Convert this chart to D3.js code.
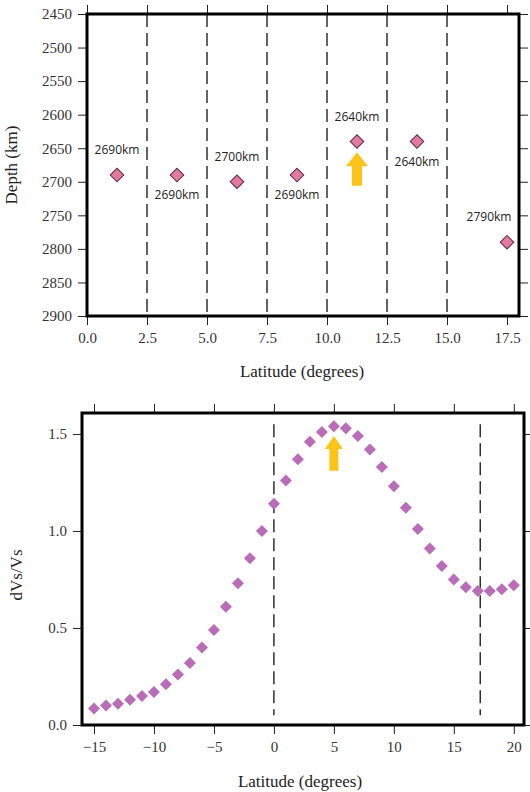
<!DOCTYPE html>
<html>
<head>
<meta charset="utf-8">
<script src="https://cdn.jsdelivr.net/npm/d3@7"></script>
<style>
  html, body { margin: 0; padding: 0; background: #fff; }
  svg { display: block; }
</style>
</head>
<body>
<svg id="canvas" width="530" height="792"></svg>
<script>
// ---- data: top panel (depth of peak per latitude bin)
const binLat = [1.25, 3.75, 6.25, 8.75, 11.25, 13.75, 17.5];
const binDepth = [2690, 2690, 2700, 2690, 2640, 2640, 2790];
const binLabel = ['2690km', '2690km', '2700km', '2690km', '2640km', '2640km', '2790km'];
const binLabelAbove = [true, false, true, false, true, false, true];
const binEdges = [2.5, 5.0, 7.5, 10.0, 12.5, 15.0];
const depthTicks = [2450, 2500, 2550, 2600, 2650, 2700, 2750, 2800, 2850, 2900];
const topLatTicks = [0, 2.5, 5, 7.5, 10, 12.5, 15, 17.5];

// ---- data: bottom panel (dVs/Vs vs latitude)
const profLat = [-15,-14,-13,-12,-11,-10,-9,-8,-7,-6,-5,-4,-3,-2,-1,0,1,2,3,4,5,6,7,8,9,10,11,12,13,14,15,16,17,18,19,20];
const profDvs = [0.085,0.10,0.11,0.13,0.15,0.17,0.21,0.26,0.32,0.40,0.49,0.61,0.73,0.86,1.00,1.14,1.26,1.37,1.46,1.51,1.54,1.53,1.49,1.42,1.33,1.23,1.12,1.01,0.91,0.82,0.75,0.71,0.69,0.69,0.70,0.72];
const profEdges = [0, 17.2];
const dvsTicks = [0, 0.5, 1.0, 1.5];
const botLatTicks = [-15, -10, -5, 0, 5, 10, 15, 20];

// arrows marking the peak
const topArrow = {lat: 11.25, from: 2706, to: 2656};
const botArrow = {lat: 5, from: 1.31, to: 1.49};

const svg = d3.select('#canvas');
const serif = '"Liberation Serif", "DejaVu Serif", serif';
const sans = '"Open Sans", "Noto Sans", "DejaVu Sans", sans-serif';

function frameAxes(g, x, y, xTicks, yTicks, xFmt, yFmt) {
  const [x0, x1] = d3.extent(x.range());
  const [yTop, yBot] = d3.extent(y.range());
  // outward ticks on all 4 sides
  g.append('g').attr('transform', `translate(0,${yBot})`)
    .call(d3.axisBottom(x).tickValues(xTicks).tickFormat(xFmt).tickSize(9).tickPadding(7))
    .call(a => a.select('.domain').remove());
  g.append('g').attr('transform', `translate(0,${yTop})`)
    .call(d3.axisTop(x).tickValues(xTicks).tickFormat('').tickSize(9))
    .call(a => a.select('.domain').remove());
  g.append('g').attr('transform', `translate(${x0},0)`)
    .call(d3.axisLeft(y).tickValues(yTicks).tickFormat(yFmt).tickSize(9).tickPadding(6))
    .call(a => a.select('.domain').remove());
  g.append('g').attr('transform', `translate(${x1},0)`)
    .call(d3.axisRight(y).tickValues(yTicks).tickFormat('').tickSize(9))
    .call(a => a.select('.domain').remove());
  g.selectAll('.tick line').attr('stroke', '#222').attr('stroke-width', 1);
  g.selectAll('.tick text').attr('font-family', serif).attr('font-size', 15).attr('fill', '#333');
  g.append('rect')
    .attr('x', x0).attr('y', yTop).attr('width', x1 - x0).attr('height', yBot - yTop)
    .attr('fill', 'none').attr('stroke', '#000').attr('stroke-width', 3);
}

function arrow(g, cx, yBase, yTip, headW, shaftW, headH) {
  const p = d3.path();
  p.moveTo(cx - shaftW / 2, yBase);
  p.lineTo(cx - shaftW / 2, yTip + headH);
  p.lineTo(cx - headW / 2, yTip + headH);
  p.lineTo(cx, yTip);
  p.lineTo(cx + headW / 2, yTip + headH);
  p.lineTo(cx + shaftW / 2, yTip + headH);
  p.lineTo(cx + shaftW / 2, yBase);
  p.closePath();
  g.append('path').attr('d', p.toString()).attr('fill', '#fcc419');
}

// ================= top panel =================
const gTop = svg.append('g');
const xT = d3.scaleLinear().domain([0, 18]).range([87, 519]);
const yT = d3.scaleLinear().domain([2450, 2900]).range([14, 316]);

gTop.append('g').selectAll('line').data(binEdges).join('line')
  .attr('x1', d => xT(d)).attr('x2', d => xT(d))
  .attr('y1', yT(2450)).attr('y2', yT(2900))
  .attr('stroke', '#111').attr('stroke-width', 1.3).attr('stroke-dasharray', '13,6');

frameAxes(gTop, xT, yT, topLatTicks, depthTicks, d3.format('.1f'), d3.format('d'));

const topPts = binLat.map((d, i) => ({lat: d, depth: binDepth[i], label: binLabel[i], above: binLabelAbove[i]}));
gTop.append('g').selectAll('path').data(topPts).join('path')
  .attr('d', d3.symbol(d3.symbolSquare, 92)())
  .attr('transform', d => `translate(${xT(d.lat)},${yT(d.depth)}) rotate(45)`)
  .attr('fill', '#e07aa0').attr('stroke', '#5a2a3a').attr('stroke-width', 1);
// labels kept inside the frame
gTop.append('g').selectAll('text').data(topPts).join('text')
  .attr('x', d => Math.min(xT(d.lat), xT.range()[1] - 30))
  .attr('y', d => yT(d.depth) + (d.above ? -21 : 24))
  .attr('text-anchor', 'middle')
  .attr('font-family', sans).attr('font-size', 12).attr('fill', '#222')
  .text(d => d.label);

arrow(gTop, xT(topArrow.lat), yT(topArrow.from), yT(topArrow.to), 22, 10, 14);

gTop.append('text').attr('x', 302).attr('y', 377).attr('text-anchor', 'middle')
  .attr('font-family', serif).attr('font-size', 17).attr('fill', '#222')
  .text('Latitude (degrees)');
gTop.append('text').attr('transform', 'translate(17,165) rotate(-90)').attr('text-anchor', 'middle')
  .attr('font-family', serif).attr('font-size', 17).attr('fill', '#222')
  .text('Depth (km)');

// ================= bottom panel =================
const gBot = svg.append('g');
const xB = d3.scaleLinear().domain([-16, 20.85]).range([82, 524]);
const yB = d3.scaleLinear().domain([0, 1.608]).range([725, 413]);

gBot.append('g').selectAll('line').data(profEdges).join('line')
  .attr('x1', d => xB(d)).attr('x2', d => xB(d))
  .attr('y1', yB(1.55)).attr('y2', yB(0.05))
  .attr('stroke', '#111').attr('stroke-width', 1.3).attr('stroke-dasharray', '13,6');

frameAxes(gBot, xB, yB, botLatTicks, dvsTicks, d3.format('d'), d3.format('.1f'));

const botPts = profLat.map((d, i) => ({lat: d, v: profDvs[i]}));
gBot.append('g').selectAll('path').data(botPts).join('path')
  .attr('d', d3.symbol(d3.symbolSquare, 72)())
  .attr('transform', d => `translate(${xB(d.lat)},${yB(d.v)}) rotate(45)`)
  .attr('fill', '#b96cb8');

arrow(gBot, xB(botArrow.lat), yB(botArrow.from), yB(botArrow.to), 18, 9, 13);

gBot.append('text').attr('x', 300).attr('y', 787).attr('text-anchor', 'middle')
  .attr('font-family', serif).attr('font-size', 17).attr('fill', '#222')
  .text('Latitude (degrees)');
gBot.append('text').attr('transform', 'translate(22,575) rotate(-90)').attr('text-anchor', 'middle')
  .attr('font-family', serif).attr('font-size', 17).attr('fill', '#222')
  .text('dVs/Vs');
</script>
</body>
</html>
